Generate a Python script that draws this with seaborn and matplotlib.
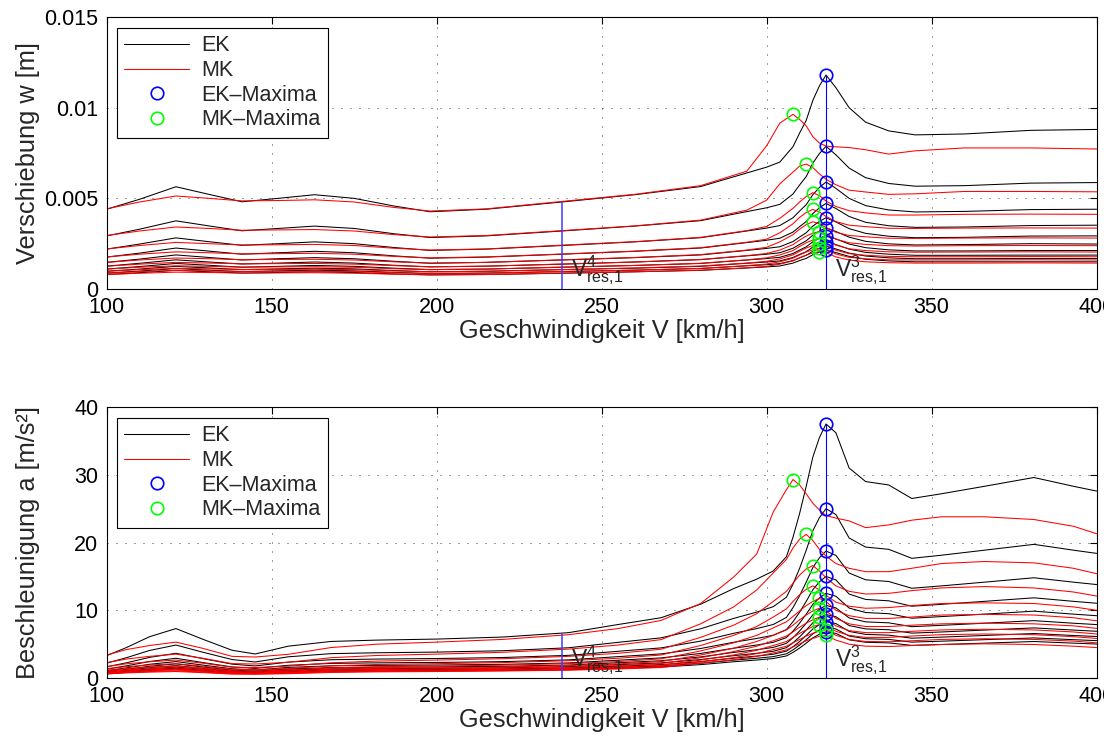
import numpy as np
import pandas as pd
import seaborn as sns
import matplotlib.pyplot as plt
from matplotlib.lines import Line2D

# speed grid of the displacement plot [km/h]
v_w = [100, 110, 121, 131, 141, 152, 163, 175, 187, 198, 215, 238, 260, 280, 294,
       300, 304, 308, 310, 312, 314, 316, 318, 321, 325, 330, 337, 345, 360, 380, 400]

# displacement, EK, load cases 1..10 [mm]
w_ek_1 = [4.40, 4.95, 5.64, 5.22, 4.81, 5.00, 5.20, 5.00, 4.58, 4.26, 4.40, 4.80, 5.20, 5.65, 6.40,
          6.72, 7.00, 7.85, 8.60, 9.30, 10.40, 11.20, 11.80, 11.10, 10.00, 9.20, 8.72, 8.50, 8.55, 8.75, 8.80]
w_ek_2 = [2.93, 3.30, 3.76, 3.48, 3.21, 3.34, 3.47, 3.34, 3.05, 2.84, 2.93, 3.20, 3.47, 3.77, 4.27,
          4.48, 4.67, 5.24, 5.74, 6.20, 6.94, 7.47, 7.87, 7.40, 6.67, 6.14, 5.82, 5.67, 5.70, 5.84, 5.87]
w_ek_3 = [2.20, 2.48, 2.82, 2.61, 2.41, 2.50, 2.60, 2.50, 2.29, 2.13, 2.20, 2.40, 2.60, 2.83, 3.20,
          3.36, 3.50, 3.93, 4.30, 4.65, 5.20, 5.60, 5.90, 5.55, 5.00, 4.60, 4.36, 4.25, 4.28, 4.38, 4.40]
w_ek_4 = [1.76, 1.98, 2.26, 2.09, 1.92, 2.00, 2.08, 2.00, 1.83, 1.70, 1.76, 1.92, 2.08, 2.26, 2.56,
          2.69, 2.80, 3.14, 3.44, 3.72, 4.16, 4.48, 4.72, 4.44, 4.00, 3.68, 3.49, 3.40, 3.42, 3.50, 3.52]
w_ek_5 = [1.47, 1.65, 1.88, 1.74, 1.60, 1.67, 1.73, 1.67, 1.53, 1.42, 1.47, 1.60, 1.73, 1.88, 2.13,
          2.24, 2.33, 2.62, 2.87, 3.10, 3.47, 3.73, 3.93, 3.70, 3.33, 3.07, 2.91, 2.83, 2.85, 2.92, 2.93]
w_ek_6 = [1.26, 1.42, 1.61, 1.49, 1.38, 1.43, 1.49, 1.43, 1.31, 1.22, 1.26, 1.37, 1.49, 1.62, 1.83,
          1.92, 2.00, 2.25, 2.46, 2.66, 2.97, 3.20, 3.37, 3.17, 2.86, 2.63, 2.49, 2.43, 2.45, 2.50, 2.48]
w_ek_7 = [1.10, 1.24, 1.41, 1.31, 1.20, 1.25, 1.30, 1.25, 1.15, 1.07, 1.10, 1.20, 1.30, 1.41, 1.60,
          1.68, 1.75, 1.96, 2.15, 2.33, 2.60, 2.80, 2.95, 2.76, 2.48, 2.28, 2.16, 2.10, 2.10, 2.12, 2.12]
w_ek_8 = [0.98, 1.10, 1.25, 1.16, 1.07, 1.11, 1.15, 1.11, 1.02, 0.95, 0.98, 1.07, 1.15, 1.25, 1.42,
          1.49, 1.55, 1.74, 1.91, 2.06, 2.31, 2.49, 2.62, 2.45, 2.20, 2.02, 1.92, 1.86, 1.86, 1.87, 1.87]
w_ek_9 = [0.88, 0.99, 1.13, 1.04, 0.96, 1.00, 1.04, 1.00, 0.92, 0.85, 0.88, 0.96, 1.04, 1.13, 1.28,
          1.34, 1.40, 1.57, 1.72, 1.86, 2.08, 2.24, 2.36, 2.21, 1.98, 1.82, 1.72, 1.67, 1.67, 1.68, 1.68]
w_ek_10 = [0.80, 0.90, 1.03, 0.95, 0.88, 0.91, 0.95, 0.91, 0.83, 0.78, 0.80, 0.87, 0.95, 1.03, 1.16,
           1.22, 1.27, 1.43, 1.57, 1.69, 1.89, 2.04, 2.15, 2.01, 1.80, 1.64, 1.55, 1.50, 1.50, 1.50, 1.50]

# displacement, MK, load cases 1..10 [mm]
w_mk_1 = [4.42, 4.80, 5.13, 5.00, 4.86, 4.88, 4.92, 4.80, 4.50, 4.30, 4.42, 4.83, 5.22, 5.70, 6.50,
          7.90, 9.15, 9.63, 9.35, 9.00, 8.40, 8.05, 7.88, 7.84, 7.80, 7.68, 7.44, 7.62, 7.78, 7.78, 7.72]
w_mk_2 = [2.95, 3.20, 3.42, 3.34, 3.24, 3.26, 3.28, 3.20, 3.00, 2.87, 2.95, 3.22, 3.48, 3.80, 4.35,
          4.90, 5.80, 6.45, 6.78, 6.89, 6.70, 6.35, 6.05, 5.75, 5.45, 5.35, 5.22, 5.25, 5.38, 5.38, 5.36]
w_mk_3 = [2.21, 2.40, 2.57, 2.50, 2.43, 2.44, 2.46, 2.40, 2.25, 2.15, 2.21, 2.42, 2.61, 2.85, 3.22,
          3.45, 3.90, 4.45, 4.80, 5.10, 5.31, 5.15, 4.85, 4.55, 4.32, 4.20, 4.08, 4.08, 4.12, 4.13, 4.12]
w_mk_4 = [1.77, 1.92, 2.05, 2.00, 1.94, 1.95, 1.97, 1.92, 1.80, 1.72, 1.77, 1.93, 2.09, 2.28, 2.58,
          2.75, 3.10, 3.60, 3.95, 4.22, 4.39, 4.25, 4.00, 3.72, 3.52, 3.44, 3.35, 3.34, 3.36, 3.37, 3.36]
w_mk_5 = [1.47, 1.60, 1.71, 1.67, 1.62, 1.63, 1.64, 1.60, 1.50, 1.43, 1.47, 1.61, 1.74, 1.90, 2.15,
          2.30, 2.60, 3.00, 3.30, 3.55, 3.71, 3.60, 3.40, 3.13, 2.95, 2.88, 2.80, 2.79, 2.81, 2.82, 2.81]
w_mk_6 = [1.26, 1.37, 1.47, 1.43, 1.39, 1.40, 1.41, 1.37, 1.29, 1.23, 1.26, 1.38, 1.49, 1.63, 1.84,
          1.96, 2.15, 2.45, 2.70, 2.92, 3.08, 3.16, 3.05, 2.75, 2.55, 2.46, 2.39, 2.37, 2.39, 2.40, 2.39]
w_mk_7 = [1.10, 1.20, 1.28, 1.25, 1.21, 1.22, 1.23, 1.20, 1.12, 1.07, 1.10, 1.21, 1.30, 1.42, 1.61,
          1.72, 1.88, 2.12, 2.35, 2.55, 2.70, 2.79, 2.70, 2.42, 2.22, 2.12, 2.05, 2.03, 2.04, 2.05, 2.04]
w_mk_8 = [0.98, 1.07, 1.14, 1.11, 1.08, 1.08, 1.09, 1.07, 1.00, 0.95, 0.98, 1.07, 1.16, 1.27, 1.43,
          1.53, 1.66, 1.88, 2.08, 2.26, 2.40, 2.48, 2.40, 2.14, 1.95, 1.86, 1.80, 1.78, 1.78, 1.79, 1.78]
w_mk_9 = [0.88, 0.96, 1.03, 1.00, 0.97, 0.98, 0.98, 0.96, 0.90, 0.86, 0.88, 0.97, 1.04, 1.14, 1.29,
          1.38, 1.50, 1.70, 1.88, 2.04, 2.17, 2.24, 2.17, 1.93, 1.75, 1.67, 1.61, 1.60, 1.60, 1.61, 1.60]
w_mk_10 = [0.80, 0.87, 0.93, 0.91, 0.88, 0.89, 0.90, 0.87, 0.82, 0.78, 0.80, 0.88, 0.95, 1.04, 1.17,
           1.25, 1.37, 1.55, 1.72, 1.87, 1.99, 2.06, 2.00, 1.77, 1.60, 1.50, 1.45, 1.43, 1.43, 1.44, 1.43]

# speed grid of the acceleration plot [km/h]
v_a = [100, 106, 113, 121, 129, 138, 145, 155, 168, 182, 200, 220, 240, 255, 268, 280, 290, 297,
       302, 306, 308, 310, 312, 314, 316, 318, 321, 325, 330, 337, 344, 353, 366, 381, 393, 400]

# acceleration, EK, load cases 1..10 [m/s²]
a_ek_1 = [3.3, 4.5, 6.1, 7.3, 5.75, 4.1, 3.55, 4.7, 5.4, 5.6, 5.75, 6.05, 6.7, 7.9, 8.9, 10.9, 13.2, 14.6,
          15.8, 17.9, 20.8, 24.3, 28.3, 32.6, 35.5, 37.5, 36.2, 31.0, 29.0, 28.5, 26.5, 27.2, 28.3, 29.6, 28.3, 27.6]
a_ek_2 = [2.2, 3.0, 4.07, 4.87, 3.83, 2.73, 2.37, 3.13, 3.6, 3.73, 3.83, 4.03, 4.47, 5.27, 5.93, 7.27, 8.8, 9.73,
          10.53, 11.93, 13.87, 16.2, 18.87, 21.73, 23.67, 25.0, 24.13, 20.67, 19.33, 19.0, 17.67, 18.13, 18.87, 19.73, 18.87, 18.4]
a_ek_3 = [1.65, 2.25, 3.05, 3.65, 2.88, 2.05, 1.78, 2.35, 2.7, 2.8, 2.88, 3.03, 3.35, 3.95, 4.45, 5.45, 6.6, 7.3,
          7.9, 8.95, 10.4, 12.15, 14.15, 16.3, 17.75, 18.75, 18.1, 15.5, 14.5, 14.25, 13.25, 13.6, 14.15, 14.8, 14.15, 13.8]
a_ek_4 = [1.32, 1.8, 2.44, 2.92, 2.3, 1.64, 1.42, 1.88, 2.16, 2.24, 2.3, 2.42, 2.68, 3.16, 3.56, 4.36, 5.28, 5.84,
          6.32, 7.16, 8.32, 9.72, 11.32, 13.04, 14.2, 15.0, 14.48, 12.4, 11.6, 11.4, 10.6, 10.88, 11.32, 11.84, 11.32, 11.04]
a_ek_5 = [1.1, 1.5, 2.03, 2.43, 1.92, 1.37, 1.18, 1.57, 1.8, 1.87, 1.92, 2.02, 2.23, 2.63, 2.97, 3.63, 4.4, 4.87,
          5.27, 5.97, 6.93, 8.1, 9.43, 10.87, 11.83, 12.5, 12.07, 10.33, 9.67, 9.5, 8.83, 9.07, 9.43, 9.87, 9.43, 9.2]
a_ek_6 = [0.94, 1.29, 1.74, 2.09, 1.64, 1.17, 1.02, 1.34, 1.54, 1.6, 1.64, 1.73, 1.92, 2.26, 2.55, 3.12, 3.78, 4.18,
          4.52, 5.12, 5.95, 6.95, 8.09, 9.32, 10.15, 10.72, 10.35, 8.87, 8.29, 8.15, 7.58, 7.78, 8.09, 8.47, 8.09, 7.89]
a_ek_7 = [0.83, 1.13, 1.53, 1.83, 1.44, 1.03, 0.89, 1.18, 1.35, 1.4, 1.44, 1.51, 1.68, 1.98, 2.23, 2.73, 3.3, 3.65,
          3.95, 4.48, 5.2, 6.08, 7.08, 8.15, 8.88, 9.38, 9.05, 7.75, 7.25, 7.13, 6.63, 6.8, 7.08, 7.4, 7.08, 6.9]
a_ek_8 = [0.73, 1.0, 1.35, 1.62, 1.28, 0.91, 0.79, 1.04, 1.2, 1.24, 1.28, 1.34, 1.49, 1.75, 1.98, 2.42, 2.93, 3.24,
          3.51, 3.97, 4.62, 5.39, 6.28, 7.24, 7.88, 8.33, 8.04, 6.88, 6.44, 6.33, 5.88, 6.04, 6.28, 6.57, 6.28, 6.13]
a_ek_9 = [0.66, 0.9, 1.22, 1.46, 1.15, 0.82, 0.71, 0.94, 1.08, 1.12, 1.15, 1.21, 1.34, 1.58, 1.78, 2.18, 2.64, 2.92,
          3.16, 3.58, 4.16, 4.86, 5.66, 6.52, 7.1, 7.5, 7.24, 6.2, 5.8, 5.7, 5.3, 5.44, 5.66, 5.92, 5.66, 5.52]
a_ek_10 = [0.6, 0.82, 1.11, 1.33, 1.05, 0.75, 0.65, 0.86, 0.98, 1.02, 1.05, 1.1, 1.22, 1.44, 1.62, 1.98, 2.4, 2.66,
           2.88, 3.26, 3.79, 4.42, 5.15, 5.93, 6.46, 6.83, 6.59, 5.64, 5.28, 5.19, 4.82, 4.95, 5.15, 5.39, 5.15, 5.02]

# acceleration, MK, load cases 1..10 [m/s²]
a_mk_1 = [3.4, 4.2, 4.8, 5.3, 4.4, 3.2, 3.1, 3.5, 4.5, 5.0, 5.3, 5.7, 6.4, 7.3, 8.5, 11.0, 14.9, 18.3,
          24.5, 27.8, 29.3, 28.5, 27.2, 25.8, 24.8, 24.0, 23.6, 23.2, 22.2, 22.6, 23.3, 23.8, 23.8, 23.4, 22.4, 21.3]
a_mk_2 = [2.27, 2.8, 3.2, 3.53, 2.93, 2.13, 2.07, 2.33, 3.0, 3.33, 3.53, 3.8, 4.27, 4.87, 5.67, 8.0, 10.5, 13.0,
          15.5, 17.5, 19.2, 20.5, 21.2, 20.3, 19.0, 18.0, 16.9, 16.2, 15.7, 15.7, 16.2, 16.9, 17.2, 17.0, 16.2, 15.4]
a_mk_3 = [1.7, 2.1, 2.4, 2.65, 2.2, 1.6, 1.55, 1.75, 2.25, 2.5, 2.65, 2.85, 3.2, 3.65, 4.25, 6.0, 7.8, 9.5,
          11.3, 12.8, 14.0, 15.2, 16.1, 16.6, 15.8, 14.8, 13.6, 12.8, 12.4, 12.5, 12.9, 13.3, 13.5, 13.3, 12.7, 12.1]
a_mk_4 = [1.36, 1.68, 1.92, 2.12, 1.76, 1.28, 1.24, 1.4, 1.8, 2.0, 2.12, 2.28, 2.56, 2.92, 3.4, 4.8, 6.3, 7.6,
          9.0, 10.2, 11.3, 12.3, 13.1, 13.6, 13.0, 12.2, 11.2, 10.6, 10.3, 10.4, 10.7, 11.0, 11.1, 11.0, 10.5, 10.0]
a_mk_5 = [1.13, 1.4, 1.6, 1.77, 1.47, 1.07, 1.03, 1.17, 1.5, 1.67, 1.77, 1.9, 2.13, 2.43, 2.83, 4.0, 5.2, 6.3,
          7.4, 8.3, 9.1, 9.9, 10.7, 11.3, 11.75, 11.3, 10.0, 9.2, 8.8, 8.8, 9.0, 9.3, 9.4, 9.3, 8.9, 8.45]
a_mk_6 = [0.97, 1.2, 1.37, 1.52, 1.26, 0.92, 0.89, 1.0, 1.29, 1.43, 1.52, 1.63, 1.83, 2.09, 2.43, 3.4, 4.4, 5.4,
          6.3, 7.1, 7.8, 8.6, 9.3, 9.9, 10.3, 9.9, 8.8, 8.0, 7.6, 7.6, 7.8, 8.0, 8.1, 8.0, 7.7, 7.33]
a_mk_7 = [0.85, 1.05, 1.2, 1.33, 1.1, 0.8, 0.78, 0.88, 1.13, 1.25, 1.33, 1.43, 1.6, 1.83, 2.13, 3.0, 3.9, 4.7,
          5.5, 6.2, 6.8, 7.5, 8.1, 8.6, 9.0, 8.7, 7.7, 7.0, 6.7, 6.7, 6.9, 7.1, 7.2, 7.1, 6.8, 6.5]
a_mk_8 = [0.75, 0.93, 1.07, 1.18, 0.98, 0.71, 0.69, 0.78, 1.0, 1.11, 1.18, 1.27, 1.42, 1.62, 1.89, 2.65, 3.4, 4.1,
          4.8, 5.4, 6.0, 6.6, 7.1, 7.6, 7.9, 7.7, 6.9, 6.3, 6.0, 6.0, 6.2, 6.4, 6.5, 6.4, 6.1, 5.85]
a_mk_9 = [0.68, 0.84, 0.96, 1.06, 0.88, 0.64, 0.62, 0.7, 0.9, 1.0, 1.06, 1.14, 1.28, 1.46, 1.7, 2.4, 3.0, 3.6,
          4.2, 4.7, 5.2, 5.7, 6.2, 6.6, 6.95, 7.1, 6.3, 5.7, 5.4, 5.35, 5.5, 5.7, 5.8, 5.7, 5.45, 5.2]
a_mk_10 = [0.62, 0.76, 0.87, 0.96, 0.8, 0.58, 0.56, 0.64, 0.82, 0.91, 0.96, 1.04, 1.16, 1.33, 1.55, 2.2, 2.7, 3.2,
           3.7, 4.15, 4.6, 5.05, 5.5, 5.85, 6.15, 6.3, 5.6, 5.0, 4.7, 4.65, 4.8, 4.95, 5.05, 4.95, 4.7, 4.5]

# resonance speeds [km/h]
v_res3 = 318
v_res4 = 238

w_ek = [w_ek_1, w_ek_2, w_ek_3, w_ek_4, w_ek_5, w_ek_6, w_ek_7, w_ek_8, w_ek_9, w_ek_10]
w_mk = [w_mk_1, w_mk_2, w_mk_3, w_mk_4, w_mk_5, w_mk_6, w_mk_7, w_mk_8, w_mk_9, w_mk_10]
a_ek = [a_ek_1, a_ek_2, a_ek_3, a_ek_4, a_ek_5, a_ek_6, a_ek_7, a_ek_8, a_ek_9, a_ek_10]
a_mk = [a_mk_1, a_mk_2, a_mk_3, a_mk_4, a_mk_5, a_mk_6, a_mk_7, a_mk_8, a_mk_9, a_mk_10]

sns.set_style("white")
plt.rcParams["font.family"] = ["Liberation Sans", "DejaVu Sans"]
plt.rcParams["mathtext.default"] = "regular"
plt.rcParams["axes.linewidth"] = 0.8


def to_long(v, curves, model, scale):
    parts = []
    for i, c in enumerate(curves):
        parts.append(pd.DataFrame({"V": v, "y": np.asarray(c) * scale, "model": model, "curve": i}))
    return pd.concat(parts, ignore_index=True)


def maxima(v, curves, scale):
    xs, ys = [], []
    for c in curves:
        c = np.asarray(c) * scale
        i = int(np.argmax(c))
        xs.append(v[i])
        ys.append(c[i])
    return xs, ys


def panel(ax, v, ek, mk, scale, yticks, yticklabels, ylabel, txt_y):
    df = pd.concat([to_long(v, ek, "EK", scale), to_long(v, mk, "MK", scale)], ignore_index=True)
    sns.lineplot(data=df, x="V", y="y", hue="model", units="curve", estimator=None,
                 palette={"EK": "black", "MK": "red"}, linewidth=0.75, legend=False, ax=ax)

    # resonance speed markers
    top1 = np.asarray(ek[0]) * scale
    ax.vlines(v_res4, 0, np.interp(v_res4, v, top1), colors="#3c3cff", lw=1.1, zorder=3)
    ax.vlines(v_res3, 0, top1.max(), colors="blue", lw=0.8, zorder=3)
    ax.text(v_res4 + 2.6, txt_y, r"$V^4_{res{,}1}$", fontsize=16.5, va="baseline", ha="left")
    ax.text(v_res3 + 2.6, txt_y, r"$V^3_{res{,}1}$", fontsize=16.5, va="baseline", ha="left")

    ex, ey = maxima(v, ek, scale)
    mx, my = maxima(v, mk, scale)
    ax.plot(ex, ey, "o", mfc="none", mec="blue", ms=9, mew=1.2, ls="none", zorder=4)
    ax.plot(mx, my, "o", mfc="none", mec=(0, 1, 0), ms=9, mew=1.2, ls="none", zorder=4)

    ax.set_xlim(100, 400)
    ax.set_ylim(yticks[0], yticks[-1])
    ax.set_xticks([100, 150, 200, 250, 300, 350, 400])
    ax.set_xticklabels(["100", "150", "200", "250", "300", "350", "400"])
    ax.set_yticks(yticks)
    ax.set_yticklabels(yticklabels)
    ax.tick_params(direction="in", top=True, right=True, length=5, width=0.8,
                   labelsize=15.5, pad=6, colors="black")
    ax.set_axisbelow(True)
    ax.grid(True, color="0.25", linestyle=(0, (1, 8)), linewidth=0.72)
    for s in ax.spines.values():
        s.set_color("black")

    ax.set_xlabel("Geschwindigkeit V [km/h]", fontsize=18.3)
    ax.set_ylabel(ylabel, fontsize=18.3)
    ax.xaxis.set_label_coords(0.5, -0.112)
    ax.yaxis.set_label_coords(-0.0674, 0.5)

    handles = [
        Line2D([], [], color="black", lw=0.75),
        Line2D([], [], color="red", lw=0.75),
        Line2D([], [], marker="o", ls="none", mfc="none", mec="blue", ms=9, mew=1.2),
        Line2D([], [], marker="o", ls="none", mfc="none", mec=(0, 1, 0), ms=9, mew=1.2),
    ]
    leg = ax.legend(handles, ["EK", "MK", "EK\u2013Maxima", "MK\u2013Maxima"],
                    loc="upper left", bbox_to_anchor=(0.0104, 0.96), borderaxespad=0,
                    fontsize=15.5, frameon=True, fancybox=False, framealpha=1,
                    edgecolor="black", handlelength=3.0, handletextpad=0.55,
                    labelspacing=0.17, borderpad=0.35)
    leg.get_frame().set_linewidth(0.8)


fig = plt.figure(figsize=(11.04, 7.39), dpi=100)
ax1 = fig.add_axes([0.0966, 0.6089, 0.8967, 0.3681])
ax2 = fig.add_axes([0.0966, 0.0825, 0.8967, 0.3667])

panel(ax1, v_w, w_ek, w_mk, 1e-3, [0, 0.005, 0.01, 0.015], ["0", "0.005", "0.01", "0.015"],
      "Verschiebung w [m]", 0.00068)
panel(ax2, v_a, a_ek, a_mk, 1.0, [0, 10, 20, 30, 40], ["0", "10", "20", "30", "40"],
      "Beschleunigung a [m/s²]", 1.67)

fig.savefig("out.png", dpi=100)
